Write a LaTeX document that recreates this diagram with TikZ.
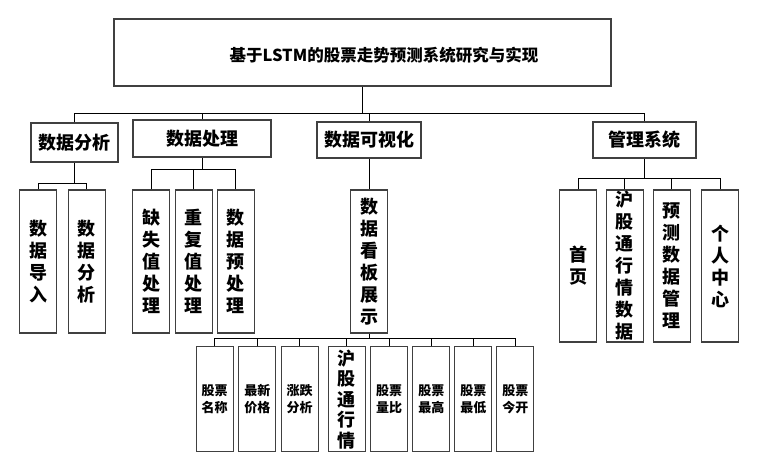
\documentclass[tikz,border=0pt]{standalone}
\usepackage{fontspec}
\newfontfamily\cjk{Noto Sans CJK SC}
\begin{document}
\begin{tikzpicture}[x=1pt,y=-1pt,
  box/.style={draw=black!75,line width=1.2pt,fill=white,inner sep=0pt,align=center},
  vbox/.style={box,minimum width=37pt,font=\cjk\bfseries\fontsize{18}{22}\selectfont},
  lvone/.style={box,font=\cjk\bfseries\fontsize{18}{22}\selectfont},
  small/.style={box,minimum width=37pt,minimum height=105pt,font=\cjk\bfseries\fontsize{13}{17}\selectfont},
  conn/.style={draw=black,line width=1pt}]
\useasboundingbox (0,0) rectangle (759,474);
\fill[white] (0,0) rectangle (759,474);
% title
\node[box,minimum width=497pt,minimum height=67pt] (title) at (362.5,52.5) {};
\node[font=\cjk\bfseries\fontsize{16.5}{20}\selectfont,inner sep=0pt] (titletext) at (384,55) {基于LSTM的股票走势预测系统研究与实现};
% level 1
\node[lvone,minimum width=87pt,minimum height=39pt] (A) at (74.5,142.5) {数据分析};
\node[lvone,minimum width=138pt,minimum height=37pt] (B) at (202,138.5) {数据处理};
\node[lvone,minimum width=104pt,minimum height=36pt] (C) at (369,140) {数据可视化};
\node[lvone,minimum width=103pt,minimum height=36pt] (D) at (644.5,140) {管理系统};
% level 2
\node[vbox,minimum height=143pt] (a1) at (38,261.5) {数\\据\\导\\入};
\node[vbox,minimum height=143pt] (a2) at (86.7,261.5) {数\\据\\分\\析};
\node[vbox,minimum height=143pt] (b1) at (151,261.5) {缺\\失\\值\\处\\理};
\node[vbox,minimum height=143pt] (b2) at (193.7,261.5) {重\\复\\值\\处\\理};
\node[vbox,minimum height=143pt] (b3) at (235.8,261.5) {数\\据\\预\\处\\理};
\node[vbox,minimum height=143pt] (c1) at (369,261.5) {数\\据\\看\\板\\展\\示};
\node[vbox,minimum height=152pt] (d1) at (578,266) {首\\页};
\node[vbox,minimum height=152pt] (d2) at (624.7,266) {沪\\股\\通\\行\\情\\数\\据};
\node[vbox,minimum height=152pt] (d3) at (671.7,266) {预\\测\\数\\据\\管\\理};
\node[vbox,minimum height=152pt] (d4) at (720,266) {个\\人\\中\\心};
% level 3
\node[small] (e1) at (214.7,399.2) {股票\\名称};
\node[small] (e2) at (257.3,399.2) {最新\\价格};
\node[small] (e3) at (299.7,399.2) {涨跌\\分析};
\node[small,font=\cjk\bfseries\fontsize{18}{20.5}\selectfont] (e4) at (346.7,399.2) {沪\\股\\通\\行\\情};
\node[small] (e5) at (389,399.2) {股票\\量比};
\node[small] (e6) at (431.3,399.2) {股票\\最高};
\node[small] (e7) at (473.3,399.2) {股票\\最低};
\node[small] (e8) at (515.3,399.2) {股票\\今开};
% junctions
\coordinate (j0) at (362.5,113);
\coordinate (jA) at (74.5,183);
\coordinate (jB) at (202,169);
\coordinate (jC) at (369,338);
\coordinate (jD) at (644.5,178);
% connectors
\draw[conn] (title.south) -- (j0);
\foreach \n in {A,B,C,D} \draw[conn] (\n.north) |- (j0);
\draw[conn] (A.south) -- (jA);
\foreach \n in {a1,a2} \draw[conn] (\n.north) |- (jA);
\draw[conn] (B.south) -- (jB);
\foreach \n in {b1,b2,b3} \draw[conn] (\n.north) |- (jB);
\draw[conn] (C.south) -- (c1.north);
\draw[conn] (c1.south) -- (jC);
\foreach \n in {e1,e2,e3,e4,e5,e6,e7,e8} \draw[conn] (\n.north) |- (jC);
\draw[conn] (D.south) -- (jD);
\foreach \n in {d1,d2,d3,d4} \draw[conn] (\n.north) |- (jD);
\end{tikzpicture}
\end{document}
